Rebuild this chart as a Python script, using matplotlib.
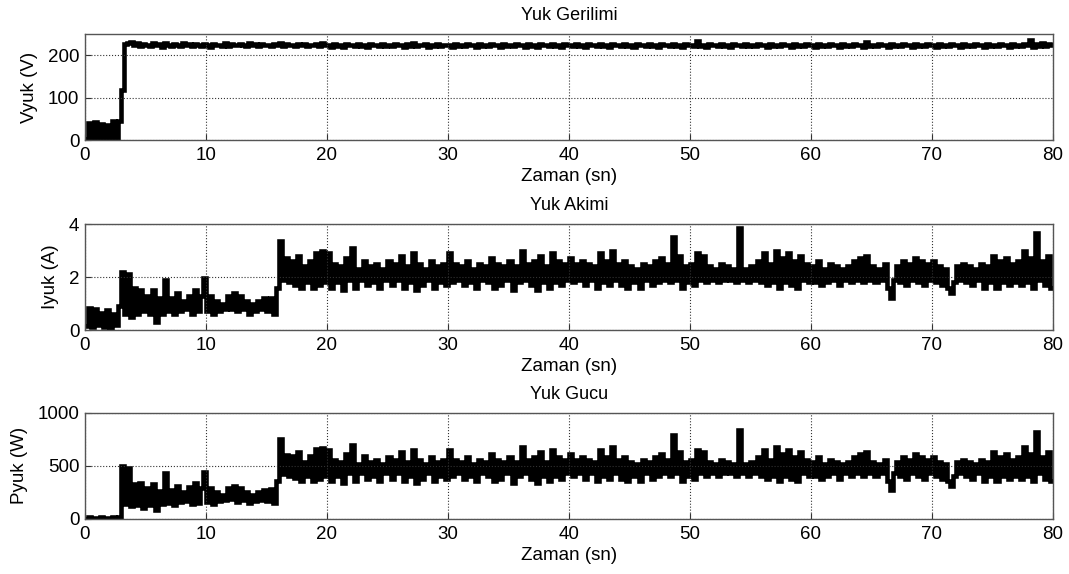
import numpy as np
import matplotlib.pyplot as plt

plt.rcParams['font.family'] = ['Liberation Sans', 'DejaVu Sans']

# sample period (s)
dt = 0.25

# Yuk gerilimi (V), one value per 0.25 s, 20 values per row = 5 s
v_load = [
    3, 40, 2, 42, 5, 38, 1, 36, 4, 44, 2, 46, 118, 226, 229, 231, 224, 228, 222, 226,
    225, 221, 228, 223, 226, 220, 229, 224, 222, 227, 225, 221, 228, 223, 226, 222, 227, 224, 221, 226,
    224, 220, 227, 223, 225, 221, 228, 222, 226, 224, 223, 227, 225, 221, 228, 224, 226, 222, 227, 223,
    225, 221, 226, 223, 228, 222, 227, 224, 225, 221, 226, 223, 227, 222, 225, 224, 226, 221, 228, 223,
    224, 220, 226, 222, 225, 219, 227, 223, 224, 221, 226, 222, 225, 220, 227, 223, 224, 221, 226, 222,
    225, 221, 227, 223, 224, 220, 226, 222, 228, 221, 225, 223, 226, 220, 224, 222, 227, 221, 225, 223,
    224, 220, 226, 222, 225, 221, 227, 223, 224, 220, 226, 222, 225, 221, 227, 223, 224, 220, 226, 222,
    225, 221, 227, 223, 224, 220, 226, 222, 225, 219, 227, 223, 224, 221, 226, 222, 225, 220, 227, 223,
    224, 221, 226, 222, 225, 220, 227, 223, 224, 221, 226, 222, 225, 220, 227, 223, 224, 221, 226, 222,
    225, 220, 227, 223, 224, 221, 226, 222, 225, 220, 227, 223, 224, 221, 226, 222, 225, 220, 227, 223,
    224, 221, 233, 222, 225, 220, 227, 223, 224, 221, 226, 222, 225, 220, 227, 223, 224, 221, 226, 222,
    225, 221, 227, 223, 224, 220, 226, 222, 225, 221, 227, 223, 224, 220, 226, 222, 225, 221, 227, 223,
    224, 220, 226, 222, 225, 221, 227, 223, 224, 220, 226, 222, 225, 221, 227, 223, 224, 220, 232, 222,
    225, 221, 227, 223, 224, 220, 226, 222, 225, 221, 227, 223, 224, 220, 226, 222, 225, 221, 227, 223,
    224, 220, 226, 222, 225, 221, 227, 223, 224, 220, 226, 222, 225, 221, 227, 223, 224, 220, 226, 222,
    225, 221, 227, 223, 224, 220, 226, 222, 225, 221, 227, 223, 235, 220, 226, 222, 229, 221, 227, 223,
]

# Yuk akimi (A)
i_load = [
    0.15, 0.85, 0.1, 0.8, 0.2, 0.65, 0.1, 0.75, 0.05, 0.6, 0.2, 0.9, 2.2, 0.6, 2.1, 0.5, 1.6, 0.6, 1.5, 0.7,
    1.3, 0.6, 1.5, 0.3, 1.2, 0.6, 1.9, 0.7, 1.2, 0.6, 1.4, 0.7, 1.1, 0.8, 1.3, 0.6, 1.5, 0.7, 1.3, 1.95,
    0.7, 1.3, 0.6, 1.1, 0.7, 1.0, 0.8, 1.3, 0.8, 1.4, 0.7, 1.3, 0.8, 1.1, 0.6, 1.0, 0.7, 1.1, 0.8, 1.2,
    0.7, 1.2, 0.6, 1.6, 3.35, 1.9, 2.7, 1.8, 2.6, 1.7, 2.8, 1.6, 2.4, 1.8, 2.6, 1.6, 2.9, 1.7, 3.0, 1.8,
    2.9, 1.6, 2.5, 1.8, 2.4, 1.5, 2.7, 1.9, 3.1, 1.6, 2.3, 1.9, 2.6, 1.7, 2.4, 1.8, 2.5, 1.6, 2.3, 1.9,
    2.6, 1.7, 2.5, 1.9, 2.8, 1.6, 2.4, 1.8, 2.9, 1.5, 2.5, 1.7, 2.3, 1.9, 2.6, 1.6, 2.4, 1.8, 2.5, 1.7,
    2.9, 1.8, 2.5, 1.9, 2.4, 1.7, 2.6, 1.8, 2.3, 1.6, 2.5, 1.9, 2.4, 1.8, 2.7, 1.6, 2.5, 1.7, 2.4, 1.9,
    2.6, 1.5, 2.4, 1.8, 3.0, 1.9, 2.5, 1.7, 2.6, 1.5, 2.8, 1.8, 2.4, 1.6, 2.9, 1.8, 2.6, 1.7, 2.5, 1.9,
    2.7, 1.8, 2.5, 1.9, 2.6, 1.7, 2.5, 1.9, 2.4, 1.6, 2.9, 1.8, 2.6, 1.7, 3.0, 1.9, 2.5, 1.7, 2.6, 1.6,
    2.4, 1.8, 2.3, 1.6, 2.5, 1.9, 2.4, 1.7, 2.6, 1.8, 2.7, 1.9, 2.5, 1.8, 3.5, 1.9, 2.8, 1.6, 2.4, 1.8,
    2.5, 1.7, 2.9, 1.9, 2.8, 1.8, 2.4, 1.9, 2.3, 1.8, 2.5, 1.9, 2.4, 1.9, 2.3, 1.8, 3.85, 1.9, 2.3, 1.8,
    2.4, 1.9, 2.6, 1.8, 2.9, 1.7, 2.5, 1.8, 3.0, 1.6, 2.7, 1.8, 2.9, 1.7, 2.6, 1.6, 2.8, 1.9, 2.5, 1.8,
    2.4, 1.8, 2.6, 1.7, 2.3, 1.8, 2.5, 1.9, 2.4, 1.7, 2.3, 1.9, 2.4, 1.8, 2.6, 1.9, 2.7, 1.8, 2.8, 1.9,
    2.4, 1.8, 2.3, 1.9, 2.5, 1.6, 1.2, 1.9, 2.4, 1.8, 2.6, 1.7, 2.5, 1.9, 2.7, 1.8, 2.6, 1.7, 2.5, 1.9,
    2.6, 1.8, 2.4, 1.7, 2.3, 1.6, 1.4, 1.8, 2.4, 1.9, 2.5, 1.8, 2.4, 1.7, 2.3, 1.9, 2.5, 1.6, 2.4, 1.8,
    2.8, 1.6, 2.6, 1.8, 2.7, 1.7, 2.5, 1.8, 2.6, 1.7, 3.0, 1.8, 2.7, 1.6, 3.65, 1.9, 2.6, 1.7, 2.8, 1.6,
]

# Yuk gucu (W)
p_load = [
    2, 15, 3, 12, 5, 18, 4, 10, 6, 14, 3, 20, 500, 140, 480, 120, 330, 130, 340, 100,
    290, 130, 330, 80, 260, 140, 430, 150, 270, 130, 310, 160, 250, 170, 300, 140, 340, 150, 290, 440,
    160, 290, 140, 250, 170, 230, 180, 290, 190, 310, 160, 290, 180, 250, 150, 230, 170, 250, 180, 270,
    170, 280, 150, 360, 750, 420, 600, 400, 590, 390, 630, 360, 540, 400, 590, 360, 660, 380, 670, 400,
    650, 360, 560, 400, 540, 340, 610, 430, 700, 360, 520, 430, 590, 380, 540, 400, 560, 360, 520, 430,
    585, 380, 560, 430, 630, 360, 540, 400, 650, 340, 560, 380, 520, 430, 585, 360, 540, 400, 560, 380,
    650, 400, 560, 430, 540, 380, 585, 400, 520, 360, 560, 430, 540, 400, 610, 360, 560, 380, 540, 430,
    585, 340, 540, 400, 675, 430, 560, 380, 585, 340, 630, 400, 540, 360, 650, 400, 585, 380, 560, 430,
    610, 400, 560, 430, 585, 380, 560, 430, 540, 360, 650, 400, 585, 380, 675, 430, 560, 380, 585, 360,
    540, 400, 520, 360, 560, 430, 540, 380, 585, 400, 610, 430, 560, 400, 790, 430, 630, 360, 540, 400,
    560, 380, 650, 430, 630, 400, 540, 430, 520, 400, 560, 430, 540, 430, 520, 400, 840, 430, 520, 400,
    540, 430, 585, 400, 650, 380, 560, 400, 675, 360, 610, 400, 650, 380, 585, 360, 630, 430, 560, 400,
    540, 400, 585, 380, 520, 400, 560, 430, 540, 380, 520, 430, 540, 400, 585, 430, 610, 400, 630, 430,
    540, 400, 520, 430, 560, 360, 270, 430, 540, 400, 585, 380, 560, 430, 610, 400, 585, 380, 560, 430,
    585, 400, 540, 380, 520, 360, 310, 400, 540, 430, 560, 400, 540, 380, 520, 430, 560, 360, 540, 400,
    630, 360, 585, 400, 610, 380, 560, 400, 585, 380, 675, 400, 610, 360, 820, 430, 585, 380, 630, 360,
]

titles = ['Yuk Gerilimi', 'Yuk Akimi', 'Yuk Gucu']
ylabels = ['Vyuk (V)', 'Iyuk (A)', 'Pyuk (W)']
ylims = [250, 4, 1000]
yticks = [[0, 100, 200], [0, 2, 4], [0, 500, 1000]]
xticks = [0, 10, 20, 30, 40, 50, 60, 70, 80]

fig = plt.figure(figsize=(10.69, 5.74), dpi=100)
bottoms = [0.756, 0.425, 0.096]

for k, series in enumerate([v_load, i_load, p_load]):
    ax = fig.add_axes([0.0795, bottoms[k], 0.9055, 0.1847])
    edges = np.arange(len(series) + 1) * dt
    ax.stairs(series, edges, baseline=None, color='black', linewidth=3.3)
    ax.set_xlim(0, 80)
    ax.set_ylim(0, ylims[k])
    ax.set_xticks(xticks)
    ax.set_yticks(yticks[k])
    ax.tick_params(direction='in', labelsize=13.5, length=4, color='#333333', pad=4)
    ax.tick_params(axis='x', pad=5)
    ax.grid(True, linestyle=':', color='#333333', linewidth=0.8)
    for s in ax.spines.values():
        s.set_color('#555555')
        s.set_linewidth(1.0)
    ax.set_title(titles[k], fontsize=13, pad=10)
    ax.set_xlabel('Zaman (sn)', fontsize=13.5, labelpad=3)
    ax.set_ylabel(ylabels[k], fontsize=13.5, labelpad=7)

fig.savefig('out.png', dpi=100)
